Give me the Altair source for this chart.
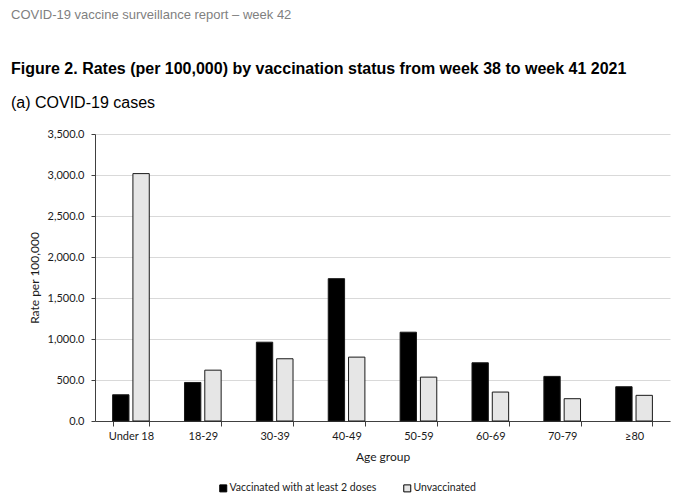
import altair as alt
import pandas as pd

age_groups = ["Under 18", "18-29", "30-39", "40-49", "50-59", "60-69", "70-79", "≥80"]
vaccinated = [320, 470, 961, 1736, 1083, 710, 544, 418]
unvaccinated = [3017, 620, 759, 779, 535, 353, 272, 313]
status_labels = ["Vaccinated with at least 2 doses", "Unvaccinated"]
status_colors = ["#000000", "#e6e6e6"]
y_ticks = [0, 500, 1000, 1500, 2000, 2500, 3000, 3500]
header_text = "COVID-19 vaccine surveillance report – week 42"
title_text = "Figure 2. Rates (per 100,000) by vaccination status from week 38 to week 41 2021"
subtitle_text = "(a) COVID-19 cases"

rows = []
for g, v, u in zip(age_groups, vaccinated, unvaccinated):
    rows.append({"age": g, "status": status_labels[0], "rate": v})
    rows.append({"age": g, "status": status_labels[1], "rate": u})
df = pd.DataFrame(rows)

bars = alt.Chart(df).mark_bar(stroke="#1a1a1a", strokeWidth=1).encode(
    x=alt.X(
        "age:N", sort=age_groups, title="Age group",
        scale=alt.Scale(paddingInner=0.49, paddingOuter=0.245),
        axis=alt.Axis(labelAngle=0, tickBand="extent", ticks=True, tickSize=5,
                      domain=True, grid=False, labelPadding=4, titlePadding=10),
    ),
    xOffset=alt.XOffset("status:N", sort=status_labels,
                        scale=alt.Scale(domain=status_labels, paddingInner=0.195)),
    y=alt.Y(
        "rate:Q", title="Rate per 100,000",
        scale=alt.Scale(domain=[0, 3500], nice=False),
        axis=alt.Axis(values=y_ticks, format=",.1f", grid=True, tickSize=4,
                      labelPadding=7, titlePadding=6),
    ),
    color=alt.Color(
        "status:N",
        scale=alt.Scale(domain=status_labels, range=status_colors),
        legend=alt.Legend(title=None, orient="none", legendX=123, legendY=349,
                          direction="horizontal", symbolType="square", symbolSize=49,
                          symbolStrokeColor="#000000", symbolStrokeWidth=1,
                          labelFontSize=10.5, labelOffset=1, columnPadding=24,
                          labelFont="Lato", labelColor="#1a1a1a"),
    ),
)


def text_layer(txt, y, size, weight, color):
    return alt.Chart(pd.DataFrame({"t": [txt]})).mark_text(
        align="left", baseline="alphabetic", font="Liberation Sans",
        fontSize=size, fontWeight=weight, color=color,
    ).encode(text="t:N", x=alt.value(-84), y=alt.value(y))


header = text_layer(header_text, -115, 13, "normal", "#7f7f7f")
title = text_layer(title_text, -60, 16, "bold", "#000000")
subtitle = text_layer(subtitle_text, -26, 16, "normal", "#000000")

chart = alt.layer(bars, header, title, subtitle).properties(
    width=575,
    height=287,
    padding={"left": 87, "top": 126, "right": 5, "bottom": 73},
    autosize=alt.AutoSizeParams(type="none"),
).configure_view(stroke=None).configure_axis(
    labelFont="Lato", labelFontSize=11, labelColor="#1a1a1a",
    titleFont="Lato", titleFontSize=12, titleFontWeight="normal", titleColor="#1a1a1a",
    domainColor="#404040", tickColor="#404040", gridColor="#d9d9d9",
)

chart.save("out.html", embed_options={"renderer": "svg", "actions": False})
